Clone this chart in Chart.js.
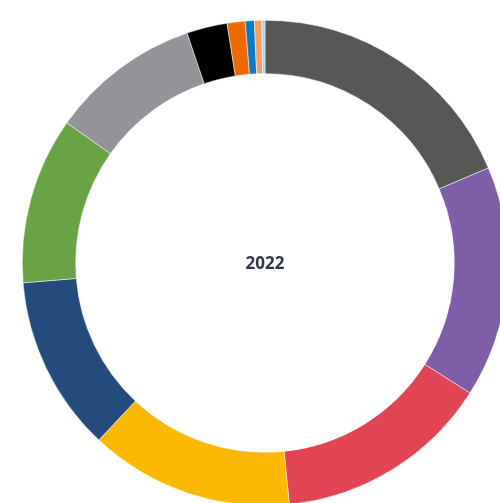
<!DOCTYPE html>
<html>
<head>
<meta charset="utf-8">
<script src="https://cdn.jsdelivr.net/npm/chart.js@4.4.0/dist/chart.umd.min.js"></script>
<style>
  html, body { margin: 0; padding: 0; background: #fff; overflow: hidden; }
  #wrap { position: absolute; left: 0; top: 0; width: 530px; height: 526px; }
</style>
</head>
<body>
<div id="wrap"><canvas id="donut"></canvas></div>
<script>
const year = "2022";
const labels = ["A", "B", "C", "D", "E", "F", "G", "H", "I", "J", "K", "L"];
const values = [18.6, 15.4, 14.4, 13.6, 11.7, 11.1, 10.0, 2.7, 1.2, 0.6, 0.5, 0.2];
const colors = [
  "#575756", "#7f5ea8", "#e14452", "#fbb800", "#254b7c", "#6aa345",
  "#929497", "#000000", "#ee6a00", "#0a7bc4", "#f4a064", "#a9d0e6"
];

// draws the year label in the middle of the ring
const centerText = {
  id: "centerText",
  afterDraw(chart) {
    const { ctx, chartArea } = chart;
    const x = (chartArea.left + chartArea.right) / 2;
    const y = (chartArea.top + chartArea.bottom) / 2;
    ctx.save();
    ctx.font = "bold 17px 'Open Sans'";
    ctx.fillStyle = "#2b3a45";
    ctx.textAlign = "center";
    ctx.textBaseline = "middle";
    ctx.fillText(year, x, y + 1);
    ctx.restore();
  }
};

new Chart(document.getElementById("donut").getContext("2d"), {
  type: "doughnut",
  data: {
    labels: labels,
    datasets: [{
      data: values,
      backgroundColor: colors,
      borderColor: "#ffffff",
      borderWidth: 0.5
    }]
  },
  options: {
    responsive: true,
    maintainAspectRatio: false,
    animation: false,
    cutout: "78%",
    layout: { padding: { top: 20, bottom: 20, left: 22, right: 22 } },
    plugins: {
      legend: { display: false },
      tooltip: { enabled: false }
    }
  },
  plugins: [centerText]
});
</script>
</body>
</html>
